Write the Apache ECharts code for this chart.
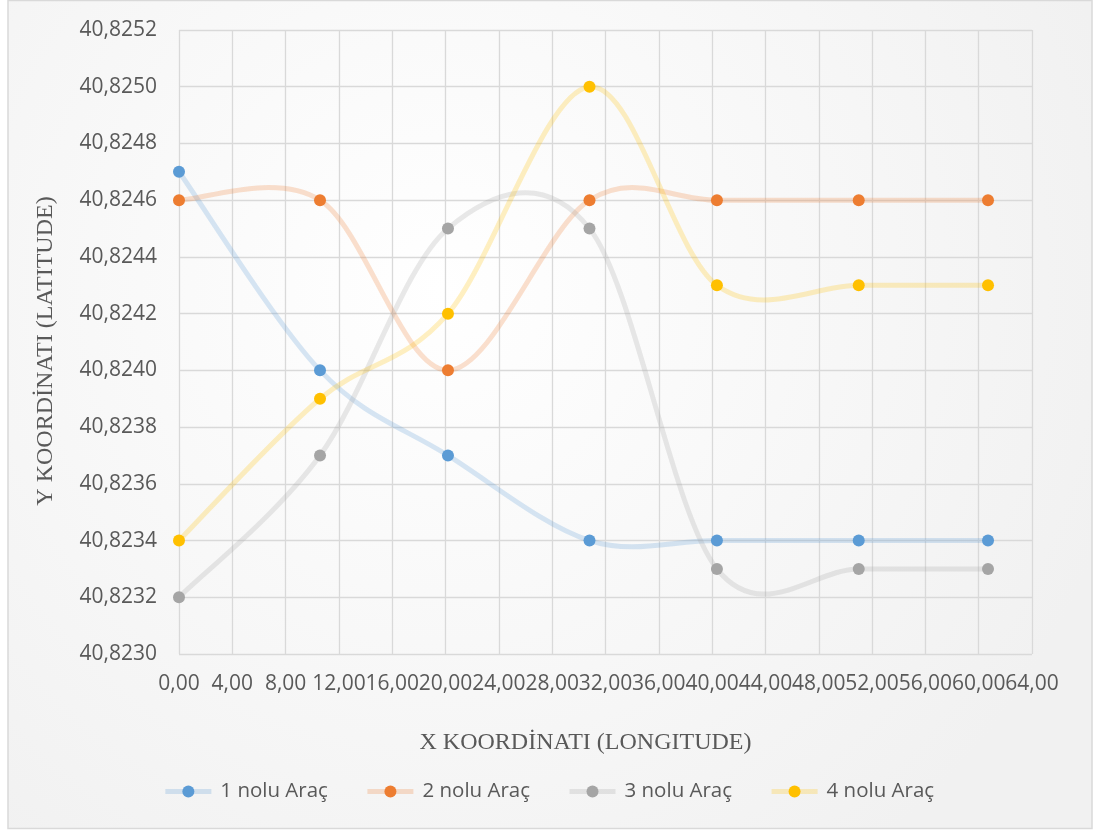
<!DOCTYPE html>
<html>
<head>
<meta charset="utf-8">
<script src="https://cdn.jsdelivr.net/npm/echarts@6/dist/echarts.min.js"></script>
<style>
html,body{margin:0;padding:0;background:#fff;}
#c{width:1097px;height:832px;}
</style>
</head>
<body>
<div id="c"></div>
<script>
const xValues = [0, 10.58, 20.18, 30.8, 40.36, 51.0, 60.7];
const seriesNames = ['1 nolu Araç', '2 nolu Araç', '3 nolu Araç', '4 nolu Araç'];
const arac1 = [40.8247, 40.8240, 40.8237, 40.8234, 40.8234, 40.8234, 40.8234];
const arac2 = [40.8246, 40.8246, 40.8240, 40.8246, 40.8246, 40.8246, 40.8246];
const arac3 = [40.8232, 40.8237, 40.8245, 40.8245, 40.8233, 40.8233, 40.8233];
const arac4 = [40.8234, 40.8239, 40.8242, 40.8250, 40.8243, 40.8243, 40.8243];
const colors = ['#5B9BD5', '#ED7D31', '#A5A5A5', '#FFC000'];
const xTitle = 'X KOORDİNATI (LONGITUDE)';
const yTitle = 'Y KOORDİNATI (LATITUDE)';

const allData = [arac1, arac2, arac3, arac4];
const labelColor = '#595959';
const lineOpacity = 0.24;
const lineWidth = 5;

// Smooth (Catmull-Rom style) curve through the data points, drawn in pixel space
function curveSeries(i) {
  const vals = allData[i];
  return {
    type: 'custom',
    coordinateSystem: 'cartesian2d',
    silent: true,
    z: 1,
    data: xValues.map((x, j) => [x, vals[j]]),
    renderItem: function (params, api) {
      if (params.dataIndex !== 0) return;
      const pts = xValues.map((x, j) => api.coord([x, vals[j]]));
      const n = pts.length;
      let d = 'M' + pts[0][0] + ' ' + pts[0][1];
      for (let k = 0; k < n - 1; k++) {
        const p0 = pts[Math.max(k - 1, 0)], p1 = pts[k], p2 = pts[k + 1], p3 = pts[Math.min(k + 2, n - 1)];
        const c1x = p1[0] + (p2[0] - p0[0]) / 6, c1y = p1[1] + (p2[1] - p0[1]) / 6;
        const c2x = p2[0] - (p3[0] - p1[0]) / 6, c2y = p2[1] - (p3[1] - p1[1]) / 6;
        d += ' C' + c1x + ' ' + c1y + ' ' + c2x + ' ' + c2y + ' ' + p2[0] + ' ' + p2[1];
      }
      return {
        type: 'path',
        shape: {pathData: d},
        style: {stroke: colors[i], lineWidth: lineWidth, fill: null, opacity: lineOpacity}
      };
    }
  };
}

const chart = echarts.init(document.getElementById('c'), null, {renderer: 'canvas'});
const option = {
  animation: false,
  color: colors,
  graphic: [{
    type: 'rect',
    shape: {x: 8, y: 0.5, width: 1084, height: 828},
    style: {
      fill: new echarts.graphic.RadialGradient(0.4, 0.35, 0.85, [
        {offset: 0, color: '#ffffff'},
        {offset: 1, color: '#f1f1f1'}
      ]),
      stroke: '#d9d9d9', lineWidth: 1.5
    },
    z: -10
  }],
  grid: {left: 179, right: 65, top: 30, bottom: 178},
  legend: {
    bottom: 25,
    left: 'center',
    itemWidth: 46,
    itemHeight: 15,
    itemGap: 37,
    textStyle: {color: labelColor, fontSize: 20.5, fontFamily: 'Open Sans', padding: [0, 0, 0, 4]},
    data: seriesNames.map((n, i) => ({
      name: n,
      lineStyle: {color: colors[i], width: lineWidth, opacity: lineOpacity},
      itemStyle: {color: colors[i], opacity: 1}
    }))
  },
  xAxis: {
    type: 'value',
    min: 0, max: 64, interval: 4,
    name: xTitle,
    nameLocation: 'middle',
    nameGap: 77,
    nameTextStyle: {color: labelColor, fontSize: 24, fontFamily: 'Liberation Serif', padding: [0, 40, 0, 0]},
    axisLine: {show: false},
    axisTick: {show: false},
    axisLabel: {color: labelColor, fontSize: 21, fontFamily: 'Open Sans', margin: 20,
      formatter: v => v.toFixed(2).replace('.', ',')},
    splitLine: {show: true, lineStyle: {color: '#d9d9d9', width: 1.3}}
  },
  yAxis: {
    type: 'value',
    min: 40.8230, max: 40.8252, interval: 0.0002,
    name: yTitle,
    nameLocation: 'middle',
    nameGap: 121,
    nameRotate: 90,
    nameTextStyle: {color: labelColor, fontSize: 24, fontFamily: 'Liberation Serif', padding: [0, 18, 0, 0]},
    axisLine: {show: false},
    axisTick: {show: false},
    axisLabel: {color: labelColor, fontSize: 21, fontFamily: 'Open Sans', margin: 22,
      formatter: v => v.toFixed(4).replace('.', ',')},
    splitLine: {show: true, lineStyle: {color: '#d9d9d9', width: 1.3}}
  },
  series: seriesNames.map((n, i) => ({
    name: n,
    type: 'line',
    symbol: 'circle',
    symbolSize: 12,
    data: xValues.map((x, j) => [x, allData[i][j]]),
    lineStyle: {width: lineWidth, color: colors[i], opacity: 0},
    itemStyle: {color: colors[i], opacity: 1},
    z: 5 + i
  })).concat(seriesNames.map((n, i) => curveSeries(i)))
};
chart.setOption(option);
</script>
</body>
</html>
